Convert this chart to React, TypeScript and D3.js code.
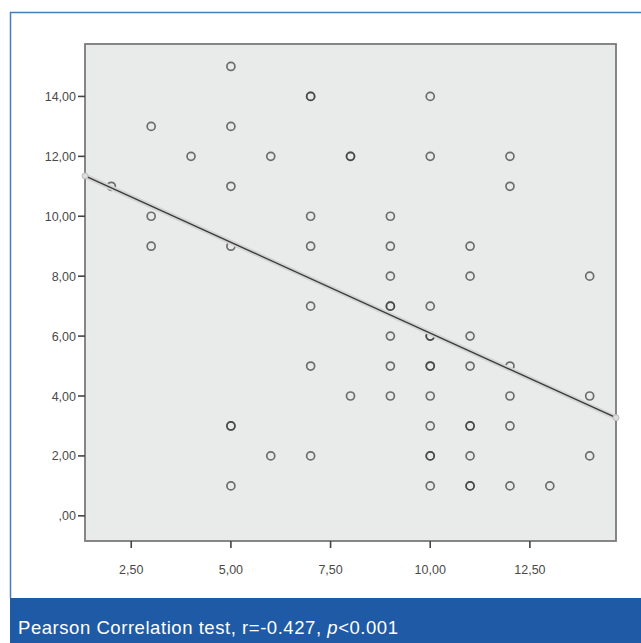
import React from "react";
import * as d3 from "d3";

// observations (repeated pairs = overlapping cases, drawn darker)
const xVals = [
  2, 3, 3, 3, 4,
  5, 5, 5, 5, 5, 5, 5,
  6, 6,
  7, 7, 7, 7, 7, 7, 7,
  8, 8, 8,
  9, 9, 9, 9, 9, 9, 9, 9,
  10, 10, 10, 10, 10, 10, 10, 10, 10, 10, 10, 10,
  11, 11, 11, 11, 11, 11, 11, 11, 11,
  12, 12, 12, 12, 12, 12,
  13,
  14, 14, 14,
];
const yVals = [
  11, 13, 10, 9, 12,
  15, 13, 11, 9, 3, 3, 1,
  12, 2,
  14, 14, 10, 9, 7, 5, 2,
  12, 12, 4,
  10, 9, 8, 7, 7, 6, 5, 4,
  14, 12, 7, 6, 6, 5, 5, 4, 3, 2, 2, 1,
  9, 8, 6, 5, 3, 3, 2, 1, 1,
  12, 11, 5, 4, 3, 1,
  1,
  8, 4, 2,
];

const xTicks = [2.5, 5, 7.5, 10, 12.5];
const yTicks = [0, 2, 4, 6, 8, 10, 12, 14];

// linear fit shown in the figure
const fitIntercept = 12.16;
const fitSlope = -0.606;

const caption = "Pearson Correlation test, r=-0.427, ";

const fmt = (v: number) => {
  const s = v.toFixed(2).replace(".", ",");
  return s.startsWith("0,") ? s.slice(1) : s;
};

export default function App() {
  const W = 641;
  const H = 643;
  const plot = { left: 85, right: 616, top: 44, bottom: 541 };

  const x = d3.scaleLinear().domain([1.34, 14.66]).range([plot.left, plot.right]);
  const y = d3.scaleLinear().domain([-0.84, 15.75]).range([plot.bottom, plot.top]);

  const [x0, x1] = x.domain();
  const fitPts: [number, number][] = [x0, x1].map((v) => [x(v), y(fitIntercept + fitSlope * v)]);
  const line = d3.line()(fitPts) as string;

  const font = "'Liberation Sans', Arial, sans-serif";

  return (
    <svg
      width={W}
      height={H}
      style={{ position: "absolute", left: 0, top: 0, background: "#fff" }}
    >
      {/* outer frame */}
      <line x1={10} y1={12.5} x2={W} y2={12.5} stroke="#4a7bbd" strokeWidth={1.5} />
      <line x1={10.5} y1={12} x2={10.5} y2={598} stroke="#4a7bbd" strokeWidth={1.5} />

      {/* plot panel */}
      <rect
        x={plot.left}
        y={plot.top}
        width={plot.right - plot.left}
        height={plot.bottom - plot.top}
        fill="#e9eaea"
        stroke="#7a7a7a"
        strokeWidth={1.8}
      />

      {/* y axis */}
      {yTicks.map((t) => (
        <g key={"y" + t}>
          <line x1={plot.left - 7} x2={plot.left} y1={y(t)} y2={y(t)} stroke="#444" strokeWidth={1.6} />
          <text
            x={plot.left - 9}
            y={y(t)}
            dy="0.36em"
            textAnchor="end"
            fontFamily={font}
            fontSize={12.5}
            fill="#4a4a4a"
          >
            {fmt(t)}
          </text>
        </g>
      ))}

      {/* x axis */}
      {xTicks.map((t) => (
        <g key={"x" + t}>
          <line x1={x(t)} x2={x(t)} y1={plot.bottom} y2={plot.bottom + 7} stroke="#444" strokeWidth={1.6} />
          <text
            x={x(t)}
            y={plot.bottom + 33}
            textAnchor="middle"
            fontFamily={font}
            fontSize={12.5}
            fill="#4a4a4a"
          >
            {fmt(t)}
          </text>
        </g>
      ))}

      {/* points */}
      {xVals.map((v, i) => (
        <circle
          key={i}
          cx={x(v)}
          cy={y(yVals[i])}
          r={4}
          fill="none"
          stroke="#3c3c3c"
          strokeOpacity={0.72}
          strokeWidth={1.7}
        />
      ))}

      {/* fit line */}
      <path d={line} fill="none" stroke="#d4d4d4" strokeWidth={5} strokeLinecap="round" />
      <path d={line} fill="none" stroke="#3a3a3a" strokeWidth={1.3} />
      {fitPts.map((p, i) => (
        <circle key={"e" + i} cx={p[0]} cy={p[1]} r={3} fill="#ddd" stroke="#bbb" strokeWidth={1} />
      ))}

      {/* caption band */}
      <rect x={10} y={598} width={W - 10} height={H - 598} fill="#1f5aa6" />
      <text x={18} y={634} fontFamily={font} fontSize={18.5} letterSpacing={0.55} fill="#fff">
        {caption}
        <tspan fontStyle="italic">p</tspan>
        {"<0.001"}
      </text>
    </svg>
  );
}
